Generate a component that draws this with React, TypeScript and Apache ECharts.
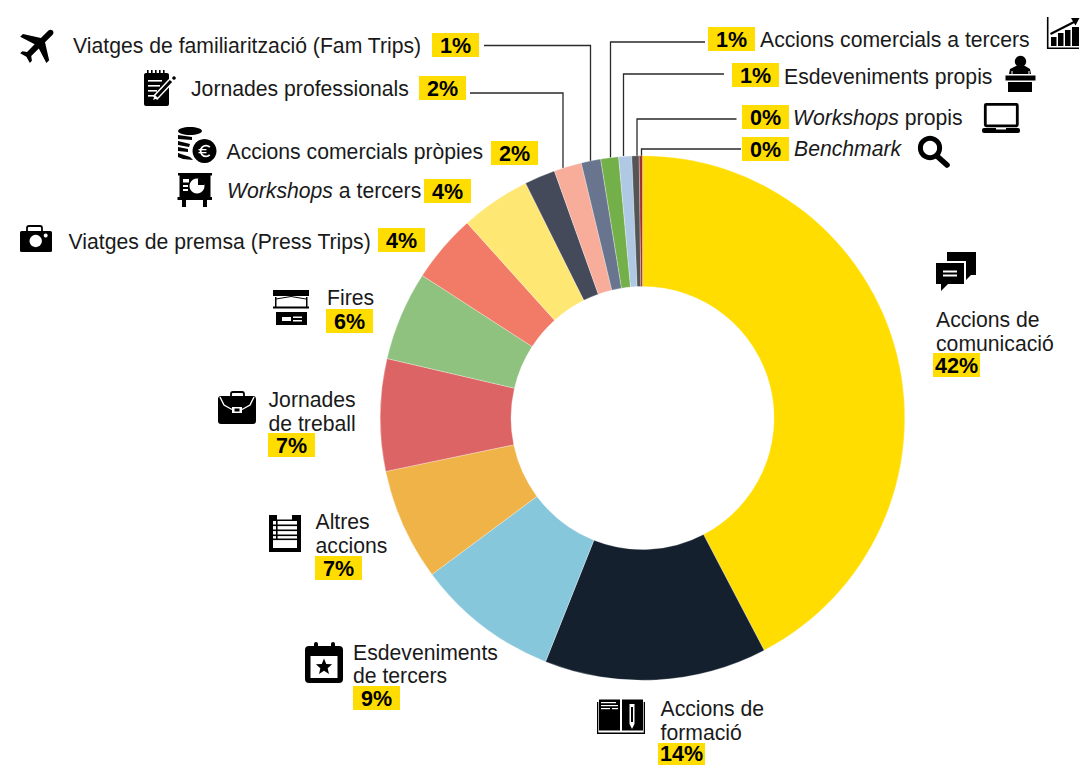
import React, { useEffect, useRef } from "react";
import * as echarts from "echarts";

const categories = [
  "Accions de\ncomunicació", "Accions de\nformació", "Esdeveniments\nde tercers", "Altres\naccions",
  "Jornades\nde treball", "Fires", "Viatges de premsa (Press Trips)", "{i|Workshops} a tercers",
  "Accions comercials pròpies", "Jornades professionals", "Viatges de familiarització (Fam Trips)",
  "Accions comercials a tercers", "Esdeveniments propis", "{i|Workshops} propis", "{i|Benchmark}",
];
const seriesValues = [42.3, 13.7, 8.8, 6.9, 6.9, 5.5, 4.2, 4.3, 1.9, 1.7, 1.2, 1.1, 0.8, 0.45, 0.2];
const percentLabels = ["42%", "14%", "9%", "7%", "7%", "6%", "4%", "4%", "2%", "2%", "1%", "1%", "1%", "0%", "0%"];
const sliceColors = [
  "#FFDD00", "#14202E", "#87C7DB", "#F0B348", "#DD6464", "#8FC17F", "#F27B67", "#FFE773",
  "#454A5B", "#F7AD9A", "#69758F", "#74B04A", "#AFC8E3", "#555555", "#A0322E",
];

// text x, first line centre y, line height, badge x, badge y
const labelLayout: number[][] = [
  [936, 319, 24, 933, 353], [660.5, 708, 24, 658, 743], [353, 652, 23, 353, 686], [315.5, 521, 24, 315, 556],
  [268.5, 399, 24, 268, 433], [327, 297, 24, 326, 309], [68.5, 241, 0, 378, 228], [227, 190, 0, 424, 179],
  [226.5, 151, 0, 491, 141], [191, 88, 0, 419, 76], [73, 45, 0, 432, 33],
  [760, 39.5, 0, 708, 27], [784, 76, 0, 732, 63], [793, 117, 0, 742, 105], [794, 148, 0, 742, 137],
];
const leaders: number[][][] = [
  [[484, 45.5], [590.5, 45.5], [590.5, 161]],
  [[470, 93], [563, 93], [563, 168]],
  [[705, 42], [610.5, 42], [610.5, 157.5]],
  [[724, 74], [623.5, 74], [623.5, 156]],
  [[736.5, 119], [637, 119], [637, 156]],
  [[741, 149], [641.5, 149], [641.5, 156]],
];

const K = "#000";
const W = "#fff";
const PLANE = "M21 16v-2l-8-5V3.5c0-.83-.67-1.5-1.5-1.5S10 2.67 10 3.5V9l-8 5v2l8-2.5V19l-2 1.5V22l3.5-1 3.5 1v-1.5L13 19v-5.5l8 2.5z";
echarts.graphic.registerShape("planeIcon", echarts.graphic.extendPath(PLANE, {}));

const R = (x: number, y: number, width: number, height: number, fill = K, r = 0) => ({
  type: "rect", shape: { x, y, width, height, r }, style: { fill },
});
const C = (cx: number, cy: number, r: number, fill = K) => ({ type: "circle", shape: { cx, cy, r }, style: { fill } });
const E = (cx: number, cy: number, rx: number, ry: number, fill = K) => ({ type: "ellipse", shape: { cx, cy, rx, ry }, style: { fill } });
const G = (points: number[][], fill = K) => ({ type: "polygon", shape: { points }, style: { fill } });
const L = (points: number[][], stroke = K, lineWidth = 1.5, lineCap = "butt") => ({
  type: "polyline", shape: { points }, style: { stroke, lineWidth, lineCap, fill: "none" },
});
const A = (cx: number, cy: number, r: number, a0: number, a1: number, stroke = K, lineWidth = 2) => ({
  type: "arc", shape: { cx, cy, r, startAngle: a0, endAngle: a1, clockwise: true }, style: { stroke, lineWidth, fill: "none" },
});
const starPoints = (cx: number, cy: number, r: number) => {
  const out: number[][] = [];
  for (let i = 0; i < 10; i++) {
    const rad = i % 2 ? r * 0.45 : r;
    const a = -Math.PI / 2 + (i * Math.PI) / 5;
    out.push([cx + rad * Math.cos(a), cy + rad * Math.sin(a)]);
  }
  return out;
};

const icons: any[] = [
  // chart
  L([[1047.7, 17], [1047.7, 48.3], [1079, 48.3]], K, 1.6),
  R(1051, 37, 5.5, 9), R(1058, 33, 5.5, 13), R(1065, 30, 5.5, 16), R(1072, 27, 7, 19),
  L([[1050.5, 34], [1076, 21]], K, 2), G([[1079.5, 18], [1071, 18], [1075.5, 25.5]]),
  // podium
  C(1020.5, 61.5, 5.7), G([[1009, 74], [1010, 69], [1016, 66], [1025, 66], [1030, 69], [1031, 74]]),
  L([[1012, 74], [1012, 71]], W, 1), L([[1029, 74], [1029, 71]], W, 1),
  R(1005.5, 75.5, 30, 5), R(1008, 82, 24, 10),
  // laptop
  { type: "rect", shape: { x: 985.3, y: 104.3, width: 32, height: 21.5, r: 1 }, style: { fill: "none", stroke: K, lineWidth: 2.8 } },
  R(982, 128, 38, 5, K, 2), R(996, 128, 10, 1.5, W),
  // magnifier
  { type: "circle", shape: { cx: 930, cy: 148, r: 9.6 }, style: { fill: "none", stroke: K, lineWidth: 5 } },
  L([[938, 157], [947, 165]], K, 5.6, "round"),
  // notepad
  R(144, 73, 25, 33, K, 2),
  ...[147, 151, 155, 159, 163].map((x) => R(x, 70, 1.6, 3)),
  R(148, 80, 14, 1.6, W), R(148, 85, 12, 1.6, W), R(148, 90, 9, 1.6, W), R(148, 95, 6, 1.6, W),
  L([[155, 98], [171, 81]], W, 6), L([[156, 97], [171, 81]], K, 3), G([[153, 100], [155, 95], [158, 98]], W),
  C(174, 78, 1.8),
  // coins
  E(190, 131, 12, 4), G([[178, 135], [192, 137], [192, 140], [178, 139]]), G([[178, 141], [190, 144], [189, 147], [178, 145]]),
  G([[178, 147], [188, 149], [188, 152], [178, 151]]), G([[178, 153], [190, 157], [193, 160], [183, 159], [178, 157]]),
  C(204.5, 151, 13.2, W), C(204.5, 151, 12),
  A(206, 151, 5.4, 0.8, 5.5, W, 1.8), R(198.5, 149, 8, 1.3, W), R(198.5, 152, 8, 1.3, W),
  // board
  R(178, 173, 34, 2.5), R(179.5, 175, 31, 23), R(177.5, 197, 34.5, 3), R(182, 200, 4, 7), R(203, 200, 4, 7),
  C(197, 186, 7.5, W), { type: "sector", shape: { cx: 198, cy: 185, r0: 0, r: 6.5, startAngle: -Math.PI / 2, endAngle: 0 }, style: { fill: K } },
  R(183, 179, 6, 3.5, W), R(183, 185, 5, 2, W), R(183, 189, 5, 2, W),
  // camera
  { type: "rect", shape: { x: 27, y: 226, width: 15, height: 8, r: 2 }, style: { fill: "none", stroke: K, lineWidth: 1.8 } },
  R(20, 231, 32, 21, K, 1.5), C(35.7, 241, 6.2, W), C(45.7, 235.5, 2, W),
  // fires
  R(273, 290, 36, 6), L([[276, 299], [291, 296.5], [306, 299]], K, 1),
  R(275, 297, 1.5, 11), R(306, 297, 1.5, 11), R(273, 306.5, 36, 2), R(276, 312, 31, 13),
  R(282, 317, 9, 4, W), R(293, 316.5, 9, 1.5, W), R(293, 320, 9, 1.5, W),
  // briefcase
  { type: "rect", shape: { x: 231, y: 392, width: 13, height: 6, r: 2 }, style: { fill: "none", stroke: K, lineWidth: 1.8 } },
  R(218, 396, 38, 28, K, 3),
  L([[220, 397], [224, 405], [232, 409.5]], W, 1.4), L([[254, 397], [250, 405], [242, 409.5]], W, 1.4),
  R(232, 407, 10, 6, W), R(234.5, 408.5, 5, 3),
  // altres
  R(269, 515, 32, 37), R(277, 515, 15, 4.5, W), R(273, 521, 24, 27, W),
  R(273, 524.5, 24, 1.6), R(273, 529.5, 24, 1.6), R(273, 534.5, 24, 1.6), R(273, 538.5, 24, 1.6), R(276, 521, 1.6, 18),
  // calendar
  R(305, 646, 38, 37, K, 4), R(310.5, 656, 27, 22, W), R(314, 642, 4, 8, K, 2), R(331, 642, 4, 8, K, 2),
  G(starPoints(324, 667, 8.5)),
  // book
  R(597, 702, 48, 32), R(598.3, 702, 45.4, 30.5, W),
  R(599, 699.5, 21, 31), R(622, 699.5, 21, 31),
  R(601, 702, 15, 1.2, W), R(601, 705, 17, 1.2, W), R(601, 708, 9, 1.2, W), R(612, 708, 6, 1.2, W),
  R(629.5, 704, 5, 20, W), G([[629.5, 724], [634.5, 724], [632, 729]], W), R(631, 707, 2, 15),
  // chat
  R(947, 252, 29, 23), G([[966, 275], [971, 275], [966, 280]]), R(934, 261, 32, 25, W),
  R(936, 263, 28, 21), G([[941, 284], [948, 284], [941, 291]]), R(943, 270.5, 14, 2, W), R(943, 274.5, 14, 2, W),
];

function buildGraphic() {
  const g: any[] = [];
  leaders.forEach((points) => g.push({
    type: "polyline", shape: { points }, style: { stroke: "#2a2a2a", lineWidth: 1.3, fill: "none" },
  }));
  categories.forEach((cat, i) => {
    const [tx, ty, lh, bx, by] = labelLayout[i];
    cat.split("\n").forEach((line, j) => g.push({
      type: "text", x: tx, y: ty + j * lh,
      style: {
        text: line, fill: "#1a1a1a", font: "21.2px 'Liberation Sans'", verticalAlign: "middle", align: "left",
        rich: { i: { fontStyle: "italic", fontSize: 21.2, fontFamily: "Liberation Sans", fill: "#1a1a1a" } },
      },
    }));
    g.push({ ...R(bx, by, 47, 24, "#FFDD00") });
    g.push({
      type: "text", x: bx + 23.5, y: Math.min(by + 13, 753.5),
      style: { text: percentLabels[i], fill: "#000", font: "bold 21.5px 'Liberation Sans'", align: "center", verticalAlign: "middle" },
    });
  });
  g.push({ type: "planeIcon", x: 27.5, y: 33, originX: 12, originY: 12, rotation: -Math.PI / 4, scaleX: 1.95, scaleY: 1.95, style: { fill: K } });
  g.push(...icons);
  return g;
}

export default function App() {
  const ref = useRef<HTMLDivElement>(null);
  useEffect(() => {
    const chart = echarts.init(ref.current!, null, { renderer: "svg" });
    chart.setOption({
      animation: false,
      backgroundColor: "#fff",
      series: [{
        type: "pie",
        center: [642.5, 418],
        radius: [131.5, 262.3],
        startAngle: 90,
        clockwise: true,
        label: { show: false },
        labelLine: { show: false },
        emphasis: { disabled: true },
        itemStyle: { borderColor: "#fff", borderWidth: 0.3 },
        data: categories.map((c, i) => ({
          name: c.replace("\n", " ").replace(/\{i\||\}/g, ""),
          value: seriesValues[i],
          itemStyle: { color: sliceColors[i] },
        })),
      }],
      graphic: { elements: buildGraphic() },
    });
    return () => chart.dispose();
  }, []);
  return <div ref={ref} style={{ position: "absolute", left: 0, top: 0, width: 1081, height: 765 }} />;
}
